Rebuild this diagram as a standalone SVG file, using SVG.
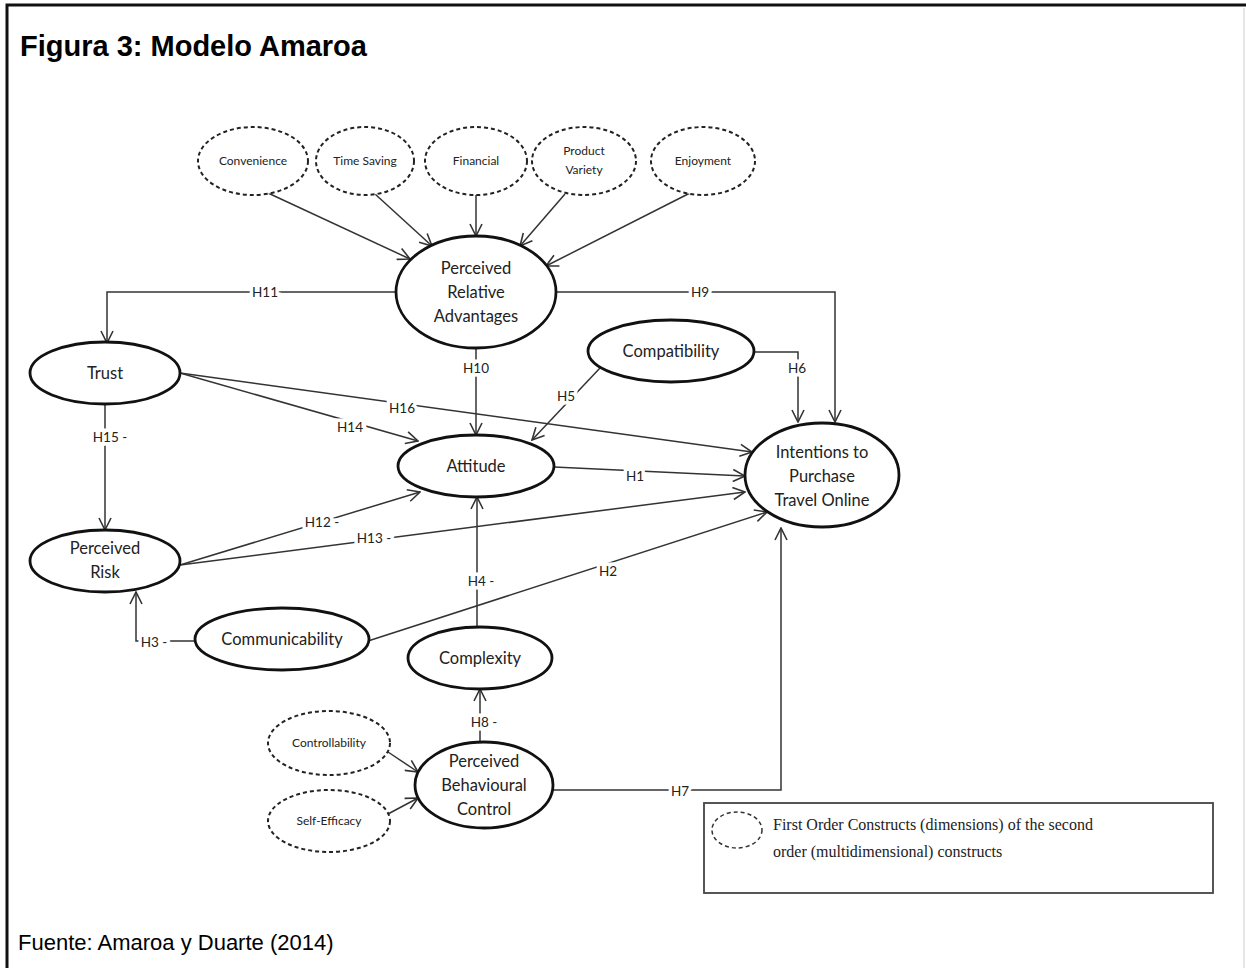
<svg xmlns="http://www.w3.org/2000/svg" width="1246" height="968" viewBox="0 0 1246 968">
<defs>
<marker id="arr" markerUnits="userSpaceOnUse" markerWidth="14" markerHeight="14" viewBox="0 0 14 14" refX="13" refY="7" orient="auto">
<path d="M1,1 L13,7 L1,13" fill="none" stroke="#333" stroke-width="1.6"/>
</marker>
<style>
.node{fill:#fff;stroke:#111;stroke-width:2.8}
.dash{fill:#fff;stroke:#222;stroke-width:2;stroke-dasharray:4 3}
.t{font-family:Lato,"Open Sans",sans-serif;font-size:16.5px;fill:#222;text-anchor:middle}
.ts{font-family:Lato,"Open Sans",sans-serif;font-size:12px;fill:#222;text-anchor:middle}
.c{fill:none;stroke:#333;stroke-width:1.5}
.lbl{font-family:Lato,"Open Sans",sans-serif;font-size:13.5px;fill:#222;text-anchor:middle;paint-order:stroke;stroke:#fff;stroke-width:7px}
.hdr{font-family:"Liberation Sans",Arial,sans-serif;fill:#000}
.leg{font-family:"Liberation Serif","DejaVu Serif",serif;font-size:16px;fill:#222}
</style>
</defs>
<rect width="1246" height="968" fill="#fff"/>
<path d="M7,968 V5 H1246" fill="none" stroke="#111" stroke-width="3"/>
<line x1="1244" y1="8" x2="1244" y2="968" stroke="#ccc" stroke-width="1"/>
<text class="hdr" x="20" y="56" font-size="29" font-weight="bold">Figura 3: Modelo Amaroa</text>
<text class="hdr" x="18" y="950" font-size="22">Fuente: Amaroa y Duarte (2014)</text>

<g id="connectors">
<line class="c" x1="268" y1="193" x2="410" y2="259" marker-end="url(#arr)"/>
<line class="c" x1="375" y1="194" x2="432" y2="246" marker-end="url(#arr)"/>
<line class="c" x1="476" y1="195" x2="476" y2="236" marker-end="url(#arr)"/>
<line class="c" x1="565" y1="194" x2="520" y2="246" marker-end="url(#arr)"/>
<line class="c" x1="690" y1="193" x2="546" y2="266" marker-end="url(#arr)"/>
<path class="c" d="M396,292 H107 V343" marker-end="url(#arr)"/>
<path class="c" d="M556,292 H835 V422" marker-end="url(#arr)"/>
<path class="c" d="M476,348 V435" marker-end="url(#arr)"/>
<path class="c" d="M754,352 H798 V422" marker-end="url(#arr)"/>
<line class="c" x1="600" y1="368" x2="532" y2="440" marker-end="url(#arr)"/>
<line class="c" x1="180" y1="373" x2="418" y2="441" marker-end="url(#arr)"/>
<line class="c" x1="180" y1="373" x2="752" y2="452" marker-end="url(#arr)"/>
<line class="c" x1="554" y1="467" x2="745" y2="476" marker-end="url(#arr)"/>
<path class="c" d="M105,404 V530" marker-end="url(#arr)"/>
<line class="c" x1="180" y1="565" x2="420" y2="492" marker-end="url(#arr)"/>
<line class="c" x1="180" y1="565" x2="745" y2="492" marker-end="url(#arr)"/>
<path class="c" d="M477,627 V497" marker-end="url(#arr)"/>
<line class="c" x1="368" y1="641" x2="767" y2="512" marker-end="url(#arr)"/>
<path class="c" d="M195,641 H136 V592" marker-end="url(#arr)"/>
<path class="c" d="M480,742 V689" marker-end="url(#arr)"/>
<line class="c" x1="388" y1="752" x2="418" y2="772" marker-end="url(#arr)"/>
<line class="c" x1="388" y1="814" x2="418" y2="798" marker-end="url(#arr)"/>
<path class="c" d="M553,790 H781 V528" marker-end="url(#arr)"/>
<text class="lbl" x="265" y="297">H11</text>
<text class="lbl" x="700" y="297">H9</text>
<text class="lbl" x="476" y="373">H10</text>
<text class="lbl" x="797" y="373">H6</text>
<text class="lbl" x="566" y="401">H5</text>
<text class="lbl" x="350" y="432">H14</text>
<text class="lbl" x="402" y="413">H16</text>
<text class="lbl" x="635" y="481">H1</text>
<text class="lbl" x="110" y="442">H15 -</text>
<text class="lbl" x="322" y="527">H12 -</text>
<text class="lbl" x="374" y="543">H13 -</text>
<text class="lbl" x="481" y="586">H4 -</text>
<text class="lbl" x="608" y="576">H2</text>
<text class="lbl" x="154" y="647">H3 -</text>
<text class="lbl" x="484" y="727">H8 -</text>
<text class="lbl" x="680" y="796">H7</text>
</g>

<g id="convenience"><ellipse class="dash" cx="253" cy="161" rx="55" ry="34"/><text class="ts" x="253" y="165">Convenience</text></g>
<g id="time-saving"><ellipse class="dash" cx="365" cy="161" rx="49" ry="34"/><text class="ts" x="365" y="165">Time Saving</text></g>
<g id="financial"><ellipse class="dash" cx="476" cy="161" rx="51" ry="34"/><text class="ts" x="476" y="165">Financial</text></g>
<g id="product-variety"><ellipse class="dash" cx="584" cy="161" rx="52" ry="34"/><text class="ts" x="584" y="155">Product</text><text class="ts" x="584" y="174">Variety</text></g>
<g id="enjoyment"><ellipse class="dash" cx="703" cy="161" rx="52" ry="34"/><text class="ts" x="703" y="165">Enjoyment</text></g>

<g id="pra"><ellipse class="node" cx="476" cy="292" rx="80" ry="56"/><text class="t" x="476" y="274">Perceived</text><text class="t" x="476" y="298">Relative</text><text class="t" x="476" y="322">Advantages</text></g>
<g id="trust"><ellipse class="node" cx="105" cy="373" rx="75" ry="31"/><text class="t" x="105" y="379">Trust</text></g>
<g id="compatibility"><ellipse class="node" cx="671" cy="351" rx="83" ry="31"/><text class="t" x="671" y="357">Compatibility</text></g>
<g id="attitude"><ellipse class="node" cx="476" cy="466" rx="78" ry="31"/><text class="t" x="476" y="472">Attitude</text></g>
<g id="intentions"><ellipse class="node" cx="822" cy="475" rx="77" ry="52"/><text class="t" x="822" y="458">Intentions to</text><text class="t" x="822" y="482">Purchase</text><text class="t" x="822" y="506">Travel Online</text></g>
<g id="risk"><ellipse class="node" cx="105" cy="561" rx="75" ry="31"/><text class="t" x="105" y="554">Perceived</text><text class="t" x="105" y="578">Risk</text></g>
<g id="communicability"><ellipse class="node" cx="282" cy="639" rx="87" ry="31"/><text class="t" x="282" y="645">Communicability</text></g>
<g id="complexity"><ellipse class="node" cx="480" cy="658" rx="72" ry="31"/><text class="t" x="480" y="664">Complexity</text></g>
<g id="pbc"><ellipse class="node" cx="484" cy="785" rx="69" ry="43"/><text class="t" x="484" y="767">Perceived</text><text class="t" x="484" y="791">Behavioural</text><text class="t" x="484" y="815">Control</text></g>
<g id="controllability"><ellipse class="dash" cx="329" cy="743" rx="61" ry="32"/><text class="ts" x="329" y="747">Controllability</text></g>
<g id="self-efficacy"><ellipse class="dash" cx="329" cy="821" rx="61" ry="31"/><text class="ts" x="329" y="825">Self-Efficacy</text></g>

<g id="legend">
<rect x="704" y="803" width="509" height="90" fill="#fff" stroke="#444" stroke-width="1.8"/>
<ellipse cx="737" cy="830" rx="25" ry="18" fill="none" stroke="#333" stroke-width="1.5" stroke-dasharray="4 3"/>
<text class="leg" x="773" y="830">First Order Constructs (dimensions) of the second</text>
<text class="leg" x="773" y="857">order (multidimensional) constructs</text>
</g>
</svg>
